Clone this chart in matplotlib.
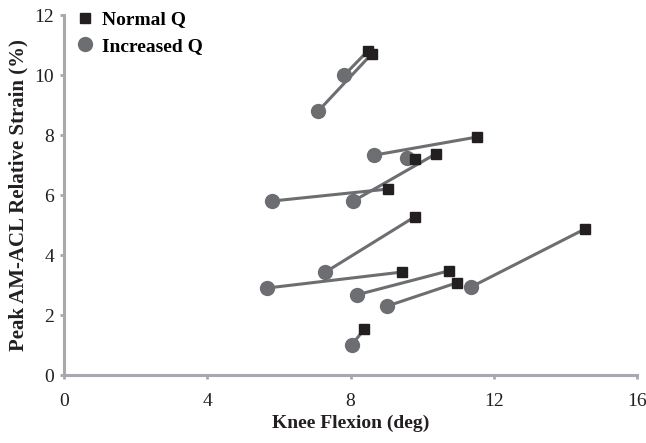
import matplotlib
matplotlib.use("Agg")
import matplotlib.pyplot as plt

# paired trials: increased Q (circle) -> normal Q (square)
inc_flex = [7.10, 7.83, 8.67, 9.59, 5.82, 8.08, 7.30, 5.68, 8.17, 9.03, 11.36, 8.03]
inc_strain = [8.80, 10.0, 7.33, 7.23, 5.80, 5.80, 3.43, 2.90, 2.67, 2.30, 2.93, 1.00]
norm_flex = [8.59, 8.48, 11.52, 9.79, 9.06, 10.38, 9.79, 9.43, 10.74, 10.96, 14.55, 8.39]
norm_strain = [10.7, 10.8, 7.93, 7.20, 6.20, 7.37, 5.27, 3.43, 3.47, 3.07, 4.87, 1.53]

x_ticks = [0, 4, 8, 12, 16]
y_ticks = [0, 2, 4, 6, 8, 10, 12]

plt.rcParams['font.family'] = ['Liberation Serif', 'DejaVu Serif']

line_col = '#6d6e71'
sq_col = '#231f20'
axis_col = '#a7a9ac'

fig = plt.figure(figsize=(6.46, 4.43), dpi=100)
ax = fig.add_axes([64 / 646, 68 / 443, 573 / 646, 360 / 443])

for i in range(len(inc_flex)):
    ax.plot([inc_flex[i], norm_flex[i]], [inc_strain[i], norm_strain[i]],
            color=line_col, lw=2.2, zorder=1)

ax.plot(norm_flex, norm_strain, 's', color=sq_col, ms=7.5, ls='none',
        label='Normal Q', zorder=3)
ax.plot(inc_flex, inc_strain, 'o', color=line_col, ms=10, ls='none',
        label='Increased Q', zorder=2)

ax.set_xlim(0, 16)
ax.set_ylim(0, 12)
ax.set_xticks(x_ticks)
ax.set_yticks(y_ticks)
ax.tick_params(colors=axis_col, labelcolor='#231f20', labelsize=14,
               length=3, width=2, direction='out')
ax.tick_params(axis='x', pad=10)
ax.tick_params(axis='y', pad=4)

for s in ['top', 'right']:
    ax.spines[s].set_visible(False)
for s in ['left', 'bottom']:
    ax.spines[s].set_color(axis_col)
    ax.spines[s].set_linewidth(2.2)

ax.set_xlabel('Knee Flexion (deg)', fontsize=14, fontweight='bold', color='#231f20', labelpad=3)
ax.set_ylabel('Peak AM-ACL Relative Strain (%)', fontsize=15, fontweight='bold', color='#231f20', labelpad=4)

handles, labels = ax.get_legend_handles_labels()
fig.legend(handles, labels, loc='upper left', bbox_to_anchor=(65.5 / 646, 1.0 - 3 / 443),
           frameon=False, prop={'size': 14, 'weight': 'bold'}, handletextpad=0.3,
           labelspacing=0.45, borderaxespad=0, handlelength=1.2)

fig.savefig('out.png', dpi=100)
